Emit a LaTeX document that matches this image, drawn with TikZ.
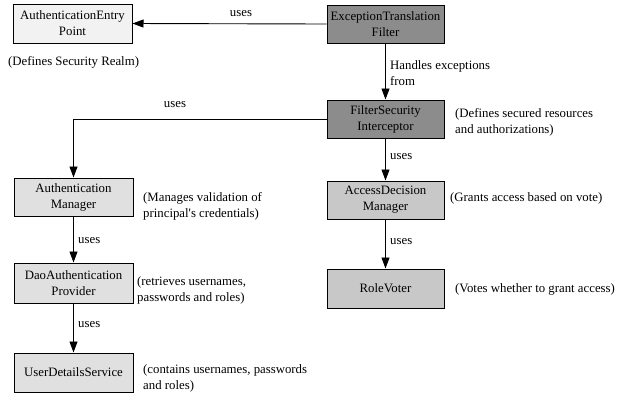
\documentclass[tikz,border=0pt]{standalone}
\usepackage{fontspec}
\setmainfont{Liberation Serif}
\usetikzlibrary{arrows.meta}
\definecolor{darkbox}{HTML}{8C8C8C}
\definecolor{midbox}{HTML}{C8C8C8}
\definecolor{lightbox}{HTML}{E0E0E0}
\definecolor{paleb}{HTML}{F2F2F2}
\tikzset{
  box/.style={draw=black, line width=1pt, minimum width=118pt, minimum height=38pt, align=center, inner sep=1pt, font=\fontsize{12.8}{16}\selectfont},
  note/.style={anchor=west, align=left, inner sep=0pt, font=\fontsize{12.8}{16}\selectfont},
  lbl/.style={inner sep=0pt, font=\fontsize{12.8}{16}\selectfont},
  conn/.style={line width=0.9pt, -{Triangle[length=11pt,width=8pt]}}
}
\begin{document}
\begin{tikzpicture}[x=1pt,y=-1pt]
\useasboundingbox (0,0) rectangle (637,400);
\node[box, fill=paleb, minimum width=119pt, minimum height=39pt] (aep) at (72.5,23.5) {AuthenticationEntry\\Point};
\node[box, fill=darkbox, minimum width=117pt] (etf) at (385.5,24) {ExceptionTranslation\\Filter};
\node[box, fill=darkbox, minimum width=117pt] (fsi) at (385.5,119) {FilterSecurity\\Interceptor};
\node[box, fill=lightbox, minimum width=119pt] (am) at (73.5,197) {Authentication\\Manager};
\node[box, fill=midbox, minimum width=117pt] (adm) at (385.5,200) {AccessDecision\\Manager};
\node[box, fill=midbox, minimum width=117pt, minimum height=39pt] (rv) at (385.5,288.5) {RoleVoter};
\node[box, fill=lightbox, minimum width=119pt, minimum height=40pt] (dap) at (73.5,283) {DaoAuthentication\\Provider};
\node[box, fill=lightbox, minimum width=119pt, minimum height=39pt] (uds) at (73.5,372.5) {UserDetailsService};

\node[note] (n1) at (8,62) {(Defines Security Realm)};
\node[note] (n2) at (455,122.5) {(Defines secured resources\\and authorizations)};
\node[note] (n3) at (143,206.5) {(Manages validation of\\principal\textquotesingle s credentials)};
\node[note] (n4) at (450,198) {(Grants access based on vote)};
\node[note] (n5) at (455,289) {(Votes whether to grant access)};
\node[note] (n6) at (137,290.5) {(retrieves usernames,\\passwords and roles)};
\node[note] (n7) at (143,378.5) {(contains usernames, passwords\\and roles)};

\draw[conn] (etf.west) -- (aep.east);
\node[lbl] (l1) at (241,14) {uses};
\draw[conn] (etf.south) -- (fsi.north);
\node[note] (l2) at (390,73.5) {Handles exceptions\\from};
\draw[conn] (fsi.west) -| (am.north);
\node[lbl] (l3) at (175,105) {uses};
\draw[conn] (fsi.south) -- (adm.north);
\node[note] (l4) at (390,157) {uses};
\draw[conn] (adm.south) -- (rv.north);
\node[note] (l5) at (390,242) {uses};
\draw[conn] (am.south) -- (dap.north);
\node[note] (l6) at (78,241) {uses};
\draw[conn] (dap.south) -- (uds.north);
\node[note] (l7) at (78,325) {uses};
\end{tikzpicture}
\end{document}
